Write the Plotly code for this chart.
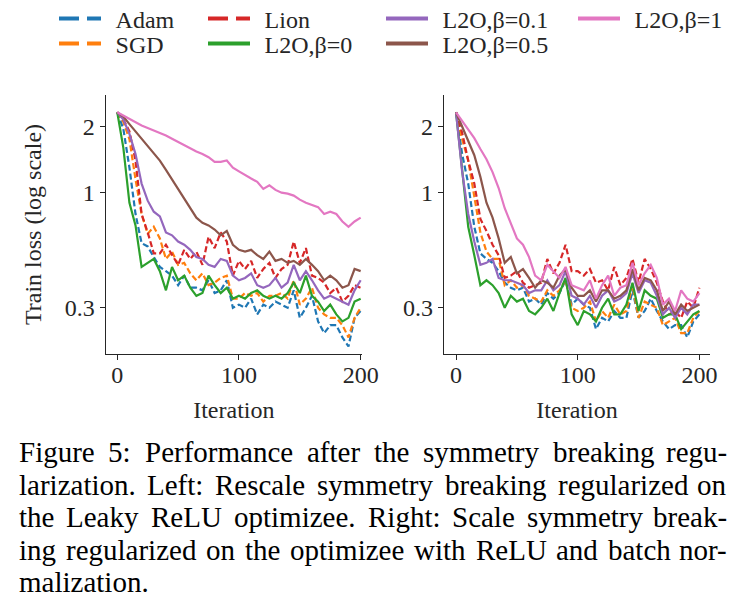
import plotly.graph_objects as go

W, H = 744, 606

iters = list(range(0, 201, 5))

names = ["Adam", "SGD", "Lion", "L2O,β=0", "L2O,β=0.1", "L2O,β=0.5", "L2O,β=1"]
colors = ["#1f77b4", "#ff7f0e", "#d62728", "#2ca02c", "#9467bd", "#8c564b", "#e377c2"]
dashed = [True, True, True, False, False, False, False]

# left panel: Leaky ReLU optimizee
left_adam = [2.32, 1.95, 1.30, 0.80, 0.59, 0.57, 0.51, 0.46, 0.44, 0.42, 0.38, 0.42, 0.37, 0.37,
             0.36, 0.40, 0.35, 0.36, 0.40, 0.30, 0.31, 0.30, 0.33, 0.28, 0.31, 0.30, 0.32, 0.31,
             0.30, 0.36, 0.27, 0.30, 0.34, 0.26, 0.23, 0.25, 0.25, 0.22, 0.20, 0.27, 0.29]
left_sgd = [2.32, 2.10, 1.75, 1.15, 0.80, 0.65, 0.70, 0.62, 0.50, 0.54, 0.47, 0.48, 0.43, 0.40,
            0.43, 0.38, 0.39, 0.41, 0.42, 0.33, 0.33, 0.35, 0.34, 0.35, 0.32, 0.34, 0.34, 0.35,
            0.33, 0.40, 0.31, 0.33, 0.37, 0.30, 0.28, 0.27, 0.27, 0.25, 0.22, 0.27, 0.30]
left_lion = [2.32, 2.15, 1.90, 1.40, 0.80, 0.66, 0.53, 0.53, 0.58, 0.52, 0.47, 0.55, 0.50, 0.54,
             0.47, 0.63, 0.56, 0.66, 0.60, 0.42, 0.49, 0.45, 0.49, 0.41, 0.45, 0.48, 0.41, 0.45,
             0.47, 0.60, 0.48, 0.56, 0.42, 0.41, 0.39, 0.35, 0.37, 0.32, 0.34, 0.38, 0.37]
left_b0 = [2.32, 1.60, 0.90, 0.71, 0.46, 0.48, 0.50, 0.44, 0.36, 0.46, 0.40, 0.42, 0.37, 0.34,
           0.35, 0.42, 0.38, 0.35, 0.37, 0.33, 0.34, 0.33, 0.35, 0.36, 0.34, 0.33, 0.34, 0.33,
           0.35, 0.39, 0.35, 0.42, 0.34, 0.32, 0.29, 0.31, 0.28, 0.26, 0.27, 0.32, 0.33]
left_b01 = [2.32, 2.15, 1.85, 1.50, 1.10, 0.92, 0.82, 0.78, 0.66, 0.64, 0.60, 0.58, 0.55, 0.51,
            0.50, 0.47, 0.46, 0.50, 0.49, 0.42, 0.40, 0.41, 0.43, 0.38, 0.37, 0.38, 0.41, 0.37,
            0.39, 0.47, 0.40, 0.44, 0.40, 0.36, 0.33, 0.34, 0.33, 0.32, 0.31, 0.36, 0.40]
left_b05 = [2.32, 2.22, 2.05, 1.90, 1.77, 1.63, 1.52, 1.40, 1.27, 1.15, 1.05, 0.95, 0.86, 0.77,
            0.73, 0.71, 0.68, 0.64, 0.67, 0.58, 0.55, 0.54, 0.55, 0.52, 0.50, 0.54, 0.49, 0.50,
            0.48, 0.49, 0.47, 0.50, 0.47, 0.44, 0.40, 0.42, 0.40, 0.37, 0.38, 0.45, 0.44]
left_b1 = [2.32, 2.24, 2.16, 2.08, 2.02, 1.97, 1.92, 1.87, 1.82, 1.76, 1.70, 1.65, 1.60, 1.54,
           1.50, 1.45, 1.38, 1.38, 1.40, 1.30, 1.25, 1.20, 1.16, 1.12, 1.04, 1.08, 1.03, 1.00,
           0.99, 0.97, 0.93, 0.90, 0.88, 0.86, 0.80, 0.82, 0.80, 0.74, 0.70, 0.74, 0.77]

# right panel: ReLU + batch norm optimizee
right_adam = [2.32, 1.50, 1.10, 0.70, 0.53, 0.50, 0.48, 0.44, 0.39, 0.37, 0.36, 0.37, 0.32, 0.33,
              0.31, 0.35, 0.33, 0.35, 0.40, 0.31, 0.33, 0.31, 0.30, 0.24, 0.27, 0.26, 0.29, 0.27,
              0.27, 0.36, 0.27, 0.29, 0.33, 0.29, 0.26, 0.24, 0.25, 0.25, 0.22, 0.26, 0.28]
right_sgd = [2.32, 1.75, 1.40, 0.95, 0.66, 0.54, 0.50, 0.50, 0.38, 0.40, 0.37, 0.38, 0.34, 0.33,
             0.32, 0.36, 0.34, 0.36, 0.40, 0.30, 0.29, 0.30, 0.32, 0.26, 0.29, 0.27, 0.31, 0.28,
             0.29, 0.38, 0.27, 0.32, 0.31, 0.30, 0.25, 0.26, 0.27, 0.23, 0.23, 0.27, 0.29]
right_lion = [2.32, 1.87, 1.40, 1.10, 0.76, 0.67, 0.58, 0.52, 0.41, 0.42, 0.44, 0.39, 0.37, 0.38,
              0.39, 0.50, 0.43, 0.48, 0.58, 0.44, 0.44, 0.42, 0.45, 0.39, 0.40, 0.36, 0.46, 0.38,
              0.41, 0.50, 0.39, 0.50, 0.45, 0.39, 0.32, 0.28, 0.29, 0.27, 0.32, 0.30, 0.37]
right_b0 = [2.32, 1.25, 0.70, 0.52, 0.38, 0.40, 0.38, 0.35, 0.30, 0.34, 0.32, 0.33, 0.29, 0.28,
            0.30, 0.33, 0.29, 0.35, 0.41, 0.28, 0.25, 0.29, 0.28, 0.26, 0.30, 0.33, 0.28, 0.28,
            0.31, 0.39, 0.29, 0.36, 0.34, 0.33, 0.27, 0.28, 0.28, 0.24, 0.26, 0.28, 0.29]
right_b01 = [2.32, 1.25, 0.80, 0.60, 0.47, 0.48, 0.50, 0.41, 0.40, 0.40, 0.39, 0.38, 0.35, 0.36,
             0.36, 0.40, 0.36, 0.38, 0.44, 0.34, 0.33, 0.31, 0.34, 0.30, 0.34, 0.36, 0.32, 0.33,
             0.35, 0.43, 0.35, 0.40, 0.39, 0.34, 0.28, 0.30, 0.27, 0.30, 0.28, 0.31, 0.31]
right_b05 = [2.32, 2.00, 1.75, 1.48, 1.18, 0.90, 0.77, 0.62, 0.48, 0.51, 0.43, 0.45, 0.41, 0.37,
             0.40, 0.39, 0.37, 0.42, 0.45, 0.37, 0.34, 0.34, 0.36, 0.32, 0.36, 0.36, 0.33, 0.34,
             0.36, 0.45, 0.36, 0.41, 0.40, 0.36, 0.29, 0.32, 0.28, 0.31, 0.29, 0.30, 0.31]
right_b1 = [2.32, 2.12, 1.93, 1.77, 1.58, 1.42, 1.24, 1.05, 0.85, 0.73, 0.62, 0.58, 0.51, 0.42,
            0.40, 0.47, 0.44, 0.41, 0.46, 0.38, 0.37, 0.36, 0.40, 0.33, 0.38, 0.42, 0.34, 0.37,
            0.38, 0.48, 0.38, 0.43, 0.47, 0.41, 0.31, 0.33, 0.29, 0.36, 0.33, 0.32, 0.35]

left_series = [left_adam, left_sgd, left_lion, left_b0, left_b01, left_b05, left_b1]
right_series = [right_adam, right_sgd, right_lion, right_b0, right_b01, right_b05, right_b1]

# legend box anchor (left x, middle y) in pixels, one small legend per entry
legend_spots = [(54, 19), (54, 44), (203, 19), (203, 44), (381, 19), (381, 44), (573, 19)]

caption = [
    "Figure 5: Performance after the symmetry breaking regu-",
    "larization. Left: Rescale symmetry breaking regularized on",
    "the Leaky ReLU optimizee. Right: Scale symmetry break-",
    "ing regularized on the optimizee with ReLU and batch nor-",
    "malization.",
]

serif = "Liberation Serif, Times New Roman, serif"
ink = "#262626"

# Times advance widths (em) to space the caption words like justified text
times_em = dict(zip("abcdefghijklmnopqrstuvwxyz",
                    [.444, .5, .444, .5, .444, .333, .5, .5, .278, .278, .5, .278, .778,
                     .5, .5, .5, .5, .333, .389, .278, .5, .5, .722, .5, .5, .444]))
times_em.update(dict(zip("ABCDEFGHIJKLMNOPQRSTUVWXYZ",
                         [.722, .667, .667, .722, .611, .556, .722, .722, .333, .389, .722, .611,
                          .889, .722, .722, .556, .722, .667, .556, .611, .722, .722, .944, .722,
                          .722, .611])))
times_em.update({".": .25, ":": .278, ",": .25, "-": .333, "5": .5})


def word_px(word, size):
    return sum(times_em.get(ch, 0.5) for ch in word) * size


fig = go.Figure()

for i, name in enumerate(names):
    dash = "6px,3px" if dashed[i] else "solid"
    for series, xa, ya in [(left_series[i], "x", "y"), (right_series[i], "x2", "y2")]:
        fig.add_trace(go.Scatter(
            x=iters, y=series, mode="lines", xaxis=xa, yaxis=ya,
            line=dict(color=colors[i], width=2.2, dash=dash),
            showlegend=False, hoverinfo="skip",
        ))
    # legend-only entry with a thicker sample line
    fig.add_trace(go.Scatter(
        x=[None], y=[None], mode="lines", name="\u2009\u2009" + name,
        line=dict(color=colors[i], width=4, dash="20px,8px" if dashed[i] else "solid"),
        legend="legend" if i == 0 else f"legend{i + 1}",
    ))

axis_common = dict(
    showline=True, linecolor=ink, linewidth=1.3, mirror=False,
    ticks="outside", ticklen=5, tickwidth=1.3, tickcolor=ink,
    showgrid=False, zeroline=False,
    tickfont=dict(family=serif, size=24, color=ink),
)

fig.update_layout(
    width=W, height=H,
    margin=dict(l=0, r=0, t=0, b=0, autoexpand=False),
    paper_bgcolor="white", plot_bgcolor="white",
    font=dict(family=serif, size=24, color=ink),
    xaxis=dict(domain=[105.7 / W, 362 / W], range=[-9.5, 201.1], anchor="y",
               tickvals=[0, 100, 200], ticklabelstandoff=-6,
               title=dict(text="Iteration", font=dict(size=24), standoff=14), **axis_common),
    yaxis=dict(domain=[1 - 354 / H, 1 - 95 / H], type="log", range=[-0.733, 0.444], anchor="x",
               tickvals=[0.3, 1, 2], ticktext=["0.3", "1", "2"],
               title=dict(text="Train loss (log scale)", font=dict(size=24), standoff=16),
               **axis_common),
    xaxis2=dict(domain=[444 / W, 710 / W], range=[-9.9, 208.7], anchor="y2",
                tickvals=[0, 100, 200], ticklabelstandoff=-6,
                title=dict(text="Iteration", font=dict(size=24), standoff=14), **axis_common),
    yaxis2=dict(domain=[1 - 354 / H, 1 - 95 / H], type="log", range=[-0.733, 0.444], anchor="x2",
                tickvals=[0.3, 1, 2], ticktext=["0.3", "1", "2"], **axis_common),
)

for i, (px, py) in enumerate(legend_spots):
    key = "legend" if i == 0 else f"legend{i + 1}"
    fig.update_layout({key: dict(
        x=px / W, y=1 - py / H, xanchor="left", yanchor="middle",
        bgcolor="rgba(0,0,0,0)", borderwidth=0, itemwidth=42,
        font=dict(family=serif, size=24, color=ink),
    )})

# caption, justified between x=18 and x=728 except the last line
cap_size = 29
cap_left, cap_right = 18, 728
for k, line in enumerate(caption):
    yk = 1 - (452 + 32.5 * k) / H
    words = line.split(" ")
    if k == len(caption) - 1 or len(words) < 2:
        fig.add_annotation(xref="paper", yref="paper", x=cap_left / W, y=yk,
                           xanchor="left", yanchor="middle", showarrow=False, text=line,
                           borderpad=0, font=dict(family=serif, size=cap_size, color="black"))
        continue
    widths = [word_px(w, cap_size) for w in words]
    gap = (cap_right - cap_left - sum(widths)) / (len(words) - 1)
    xpos = cap_left
    for j, w in enumerate(words):
        last = j == len(words) - 1
        fig.add_annotation(xref="paper", yref="paper",
                           x=(cap_right if last else xpos) / W, y=yk,
                           xanchor="right" if last else "left", yanchor="middle",
                           showarrow=False, text=w, borderpad=0,
                           font=dict(family=serif, size=cap_size, color="black"))
        xpos += widths[j] + gap

page_fix = (
    "document.documentElement.style.overflow='hidden';"
    "document.body.style.margin='0';"
    "document.body.style.overflow='hidden';"
)
fig.write_html("out.html", config={"displayModeBar": False}, post_script=page_fix)
